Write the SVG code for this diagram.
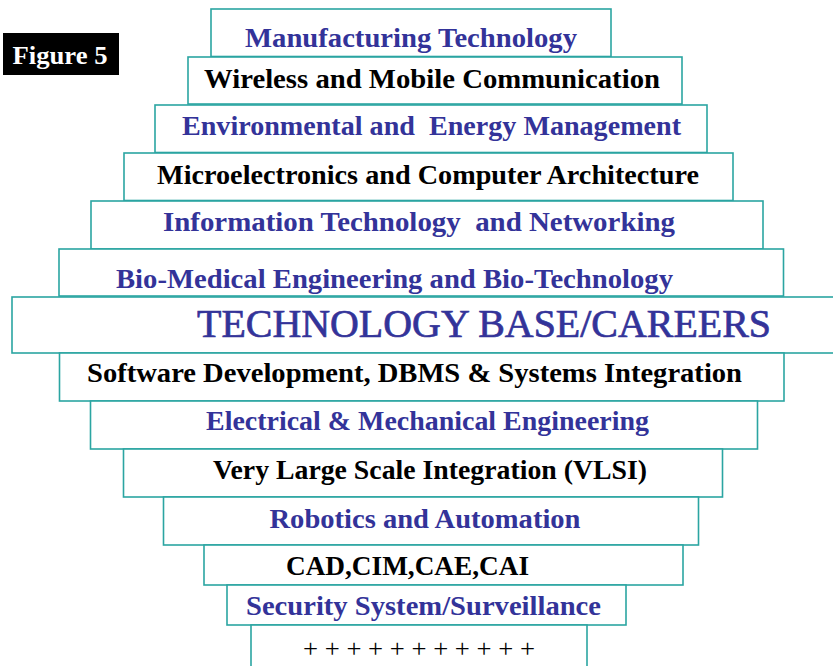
<svg xmlns="http://www.w3.org/2000/svg" width="833" height="666" viewBox="0 0 833 666">
<style>
.box{fill:#ffffff;stroke:#2ba5a2;stroke-width:1.6}
.t{font-family:"Liberation Serif","Times New Roman",serif;font-weight:bold;font-size:27px}
.blue{fill:#333399}
.blk{fill:#000000}
</style>
<rect width="833" height="666" fill="#ffffff"/>
<g id="figure-label">
<rect x="3" y="33" width="116" height="42" fill="#000000"/>
<text x="12.5" y="63.5" font-family="'Liberation Serif','Times New Roman',serif" font-weight="bold" font-size="26" fill="#ffffff" textLength="95" lengthAdjust="spacingAndGlyphs">Figure 5</text>
</g>
<g id="n1"><rect class="box" x="211" y="9" width="400" height="47.5"/>
<text class="t blue" x="245" y="47" textLength="332" lengthAdjust="spacingAndGlyphs">Manufacturing Technology</text></g>
<g id="n2"><rect class="box" x="188" y="57" width="494" height="47"/>
<text class="t blk" x="204" y="87.5" textLength="456" lengthAdjust="spacingAndGlyphs">Wireless and Mobile Communication</text></g>
<g id="n3"><rect class="box" x="155" y="105" width="552" height="47.5"/>
<text class="t blue" x="182" y="135" textLength="499" lengthAdjust="spacingAndGlyphs" xml:space="preserve">Environmental and  Energy Management</text></g>
<g id="n4"><rect class="box" x="124" y="153" width="609" height="47.5"/>
<text class="t blk" x="157" y="183.5" textLength="542" lengthAdjust="spacingAndGlyphs">Microelectronics and Computer Architecture</text></g>
<g id="n5"><rect class="box" x="91" y="201" width="672" height="48"/>
<text class="t blue" x="163" y="231" textLength="512" lengthAdjust="spacingAndGlyphs" xml:space="preserve">Information Technology  and Networking</text></g>
<g id="n6"><rect class="box" x="59" y="249" width="724.5" height="47"/>
<text class="t blue" x="116" y="287.5" textLength="557" lengthAdjust="spacingAndGlyphs">Bio-Medical Engineering and Bio-Technology</text></g>
<g id="n7"><rect class="box" x="12" y="297" width="830" height="56"/>
<text x="197" y="337" fill="#333399" stroke="#333399" stroke-width="0.7" font-family="'Liberation Serif','Times New Roman',serif" font-size="39" textLength="574" lengthAdjust="spacingAndGlyphs">TECHNOLOGY BASE/CAREERS</text></g>
<g id="n8"><rect class="box" x="59.5" y="353" width="724.5" height="48"/>
<text class="t blk" x="87" y="382" textLength="655" lengthAdjust="spacingAndGlyphs">Software Development, DBMS &amp; Systems Integration</text></g>
<g id="n9"><rect class="box" x="90.5" y="401" width="667" height="48"/>
<text class="t blue" x="206" y="430" textLength="443" lengthAdjust="spacingAndGlyphs">Electrical &amp; Mechanical Engineering</text></g>
<g id="n10"><rect class="box" x="123.5" y="449" width="599" height="48"/>
<text class="t blk" x="213" y="479" textLength="434" lengthAdjust="spacingAndGlyphs">Very Large Scale Integration (VLSI)</text></g>
<g id="n11"><rect class="box" x="163.5" y="497" width="535" height="48"/>
<text class="t blue" x="269.5" y="527.5" textLength="311" lengthAdjust="spacingAndGlyphs">Robotics and Automation</text></g>
<g id="n12"><rect class="box" x="204" y="545" width="479" height="40"/>
<text class="t blk" x="286" y="575" textLength="243" lengthAdjust="spacingAndGlyphs">CAD,CIM,CAE,CAI</text></g>
<g id="n13"><rect class="box" x="227" y="585" width="399" height="40"/>
<text class="t blue" x="246" y="615" textLength="355" lengthAdjust="spacingAndGlyphs">Security System/Surveillance</text></g>
<g id="n14"><rect class="box" x="251" y="625" width="336" height="60"/>
<text x="303" y="657" fill="#000000" font-family="'Liberation Serif','Times New Roman',serif" font-size="25" textLength="232" lengthAdjust="spacingAndGlyphs">+ + + + + + + + + + +</text></g>
<g id="connectors"></g>
</svg>
